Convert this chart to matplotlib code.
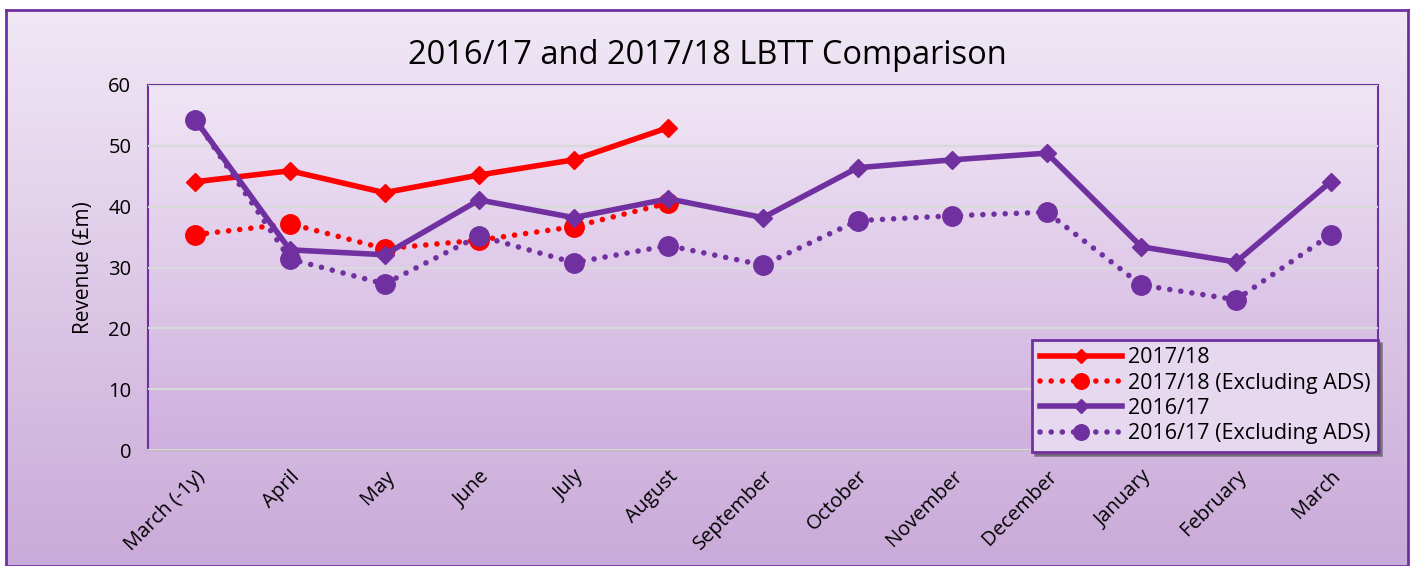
import numpy as np
import matplotlib.pyplot as plt
from matplotlib.colors import LinearSegmentedColormap

months = ["March (-1y)", "April", "May", "June", "July", "August", "September",
          "October", "November", "December", "January", "February", "March"]
rev_1718 = [44.1, 45.9, 42.3, 45.2, 47.7, 53.0]
rev_1718_ex = [35.4, 37.2, 33.1, 34.5, 36.7, 40.6]
rev_1617 = [54.3, 32.9, 32.1, 41.1, 38.2, 41.3, 38.2, 46.4, 47.7, 48.8, 33.4, 30.9, 44.1]
rev_1617_ex = [54.3, 31.4, 27.3, 35.2, 30.8, 33.6, 30.4, 37.7, 38.5, 39.1, 27.1, 24.7, 35.4]

plt.rcParams["font.family"] = ["Open Sans", "DejaVu Sans"]

RED = "#FF0000"
PURPLE = "#7030A0"

fig = plt.figure(figsize=(14.13, 5.66), dpi=100)
W, H = 1413, 566

# figure background gradient
bg = fig.add_axes([6 / W, 0, 1402 / W, 556 / H], zorder=-10)
grad = np.linspace(0, 1, 256).reshape(-1, 1)
bg_cmap = LinearSegmentedColormap.from_list("bg", ["#F0E8F5", "#CAAAD9"])
bg.imshow(grad, aspect="auto", cmap=bg_cmap, extent=[0, 1, 0, 1], origin="upper")
bg.set_xticks([])
bg.set_yticks([])
for s in bg.spines.values():
    s.set_color(PURPLE)
    s.set_linewidth(2)

ax = fig.add_axes([148 / W, (H - 450) / H, (1378 - 148) / W, (450 - 85) / H])
x = np.arange(len(months))
ax.set_xlim(-0.5, len(months) - 0.5)
ax.set_ylim(0, 60)

pa_cmap = LinearSegmentedColormap.from_list("pa", ["#F0E6F5", "#CFAFDE"])
ax.imshow(grad, aspect="auto", cmap=pa_cmap, extent=[-0.5, len(months) - 0.5, 0, 60],
          origin="upper", zorder=0)

ax.set_yticks(range(0, 61, 10))
ax.grid(axis="y", color="#D9D9D9", linewidth=1.5, zorder=1)
ax.set_axisbelow(False)

dot = (0, (0.01, 2.0))
ax.plot(x[:6], rev_1718, color=RED, lw=4, marker="D", ms=9, zorder=3, label="2017/18")
ax.plot(x[:6], rev_1718_ex, color=RED, lw=4, ls=dot, dash_capstyle="round",
        marker="o", ms=14, zorder=3, label="2017/18 (Excluding ADS)")
ax.plot(x, rev_1617, color=PURPLE, lw=4, marker="D", ms=9, zorder=4, label="2016/17")
ax.plot(x, rev_1617_ex, color=PURPLE, lw=4, ls=dot, dash_capstyle="round",
        marker="o", ms=14, zorder=4, label="2016/17 (Excluding ADS)")

ax.set_xticks(x)
ax.set_xticklabels(months, rotation=45, ha="right", va="top", rotation_mode="anchor",
                   fontsize=14.5)
ax.tick_params(axis="y", labelsize=14.5, length=0, pad=12)
ax.tick_params(axis="x", length=0, pad=12)
ax.set_ylabel("Revenue (£m)", fontsize=15, labelpad=10)

for side in ["left", "top", "right"]:
    ax.spines[side].set_color(PURPLE)
    ax.spines[side].set_linewidth(1.5)
ax.spines["bottom"].set_color("#BFBFBF")
ax.spines["bottom"].set_linewidth(1.5)

leg = ax.legend(loc="lower right", bbox_to_anchor=(1.0, -0.005), fontsize=15.5,
                frameon=True, fancybox=False, shadow=True, handlelength=3.8,
                borderpad=0.35, labelspacing=0.2, handletextpad=0.3,
                borderaxespad=0.0, markerscale=0.8)
leg.get_frame().set_facecolor("#E6D8EE")
leg.get_frame().set_edgecolor(PURPLE)
leg.get_frame().set_linewidth(2)
leg.set_zorder(10)

fig.text(707 / W, 1 - 55 / H, "2016/17 and 2017/18 LBTT Comparison", fontsize=23.5,
         ha="center", va="center")

fig.savefig("out.png", dpi=100)
